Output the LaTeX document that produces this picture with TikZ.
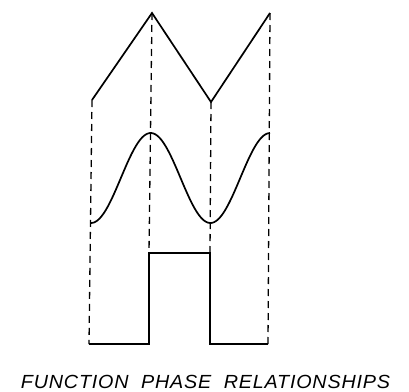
\documentclass[tikz,border=0pt]{standalone}
\usepackage{fontspec}
\setmainfont{Liberation Sans}
\begin{document}
\begin{tikzpicture}[x=1pt,y=-1pt,
  wave/.style={line width=1.7pt,line join=miter},
  guide/.style={line width=1.3pt,dash pattern=on 7pt off 5pt},
  caption/.style={font=\itshape\fontsize{19}{19}\selectfont,inner sep=0pt,xscale=1.04}]
\useasboundingbox (0,0) rectangle (409,391);
% triangle wave
\coordinate (t1) at (92,100);
\coordinate (t2) at (152,13);
\coordinate (t3) at (211,102);
\coordinate (t4) at (270,13);
\draw[wave] (t1) -- (t2) -- (t3) -- (t4);
% sine wave
\coordinate (s1) at (91,223);
\coordinate (s2) at (151,133);
\coordinate (s3) at (211,224);
\coordinate (s4) at (270,133);
\draw[wave,line join=round] plot[domain=91:270,samples=120,smooth] (\x,{178+45*cos(3.015*(\x-91))});
% square wave
\coordinate (q1) at (89,344);
\coordinate (q2) at (149,344);
\coordinate (q3) at (149,253);
\coordinate (q4) at (210,253);
\coordinate (q5) at (210,344);
\coordinate (q6) at (268,344);
\draw[wave] (q1) -- (q2) -- (q3) -- (q4) -- (q5) -- (q6);
% dashed guides
\draw[guide] (t1) -- (q1);
\draw[guide] (t2) -- (q3);
\draw[guide] (t3) -- (q4);
\draw[guide] (t4) -- (q6);
% caption
\node[caption] (cap) at (205.5,381.5) {\addfontfeatures{LetterSpace=4}FUNCTION\ \ PHASE\ \ RELATIONSHIPS};
\end{tikzpicture}
\end{document}
